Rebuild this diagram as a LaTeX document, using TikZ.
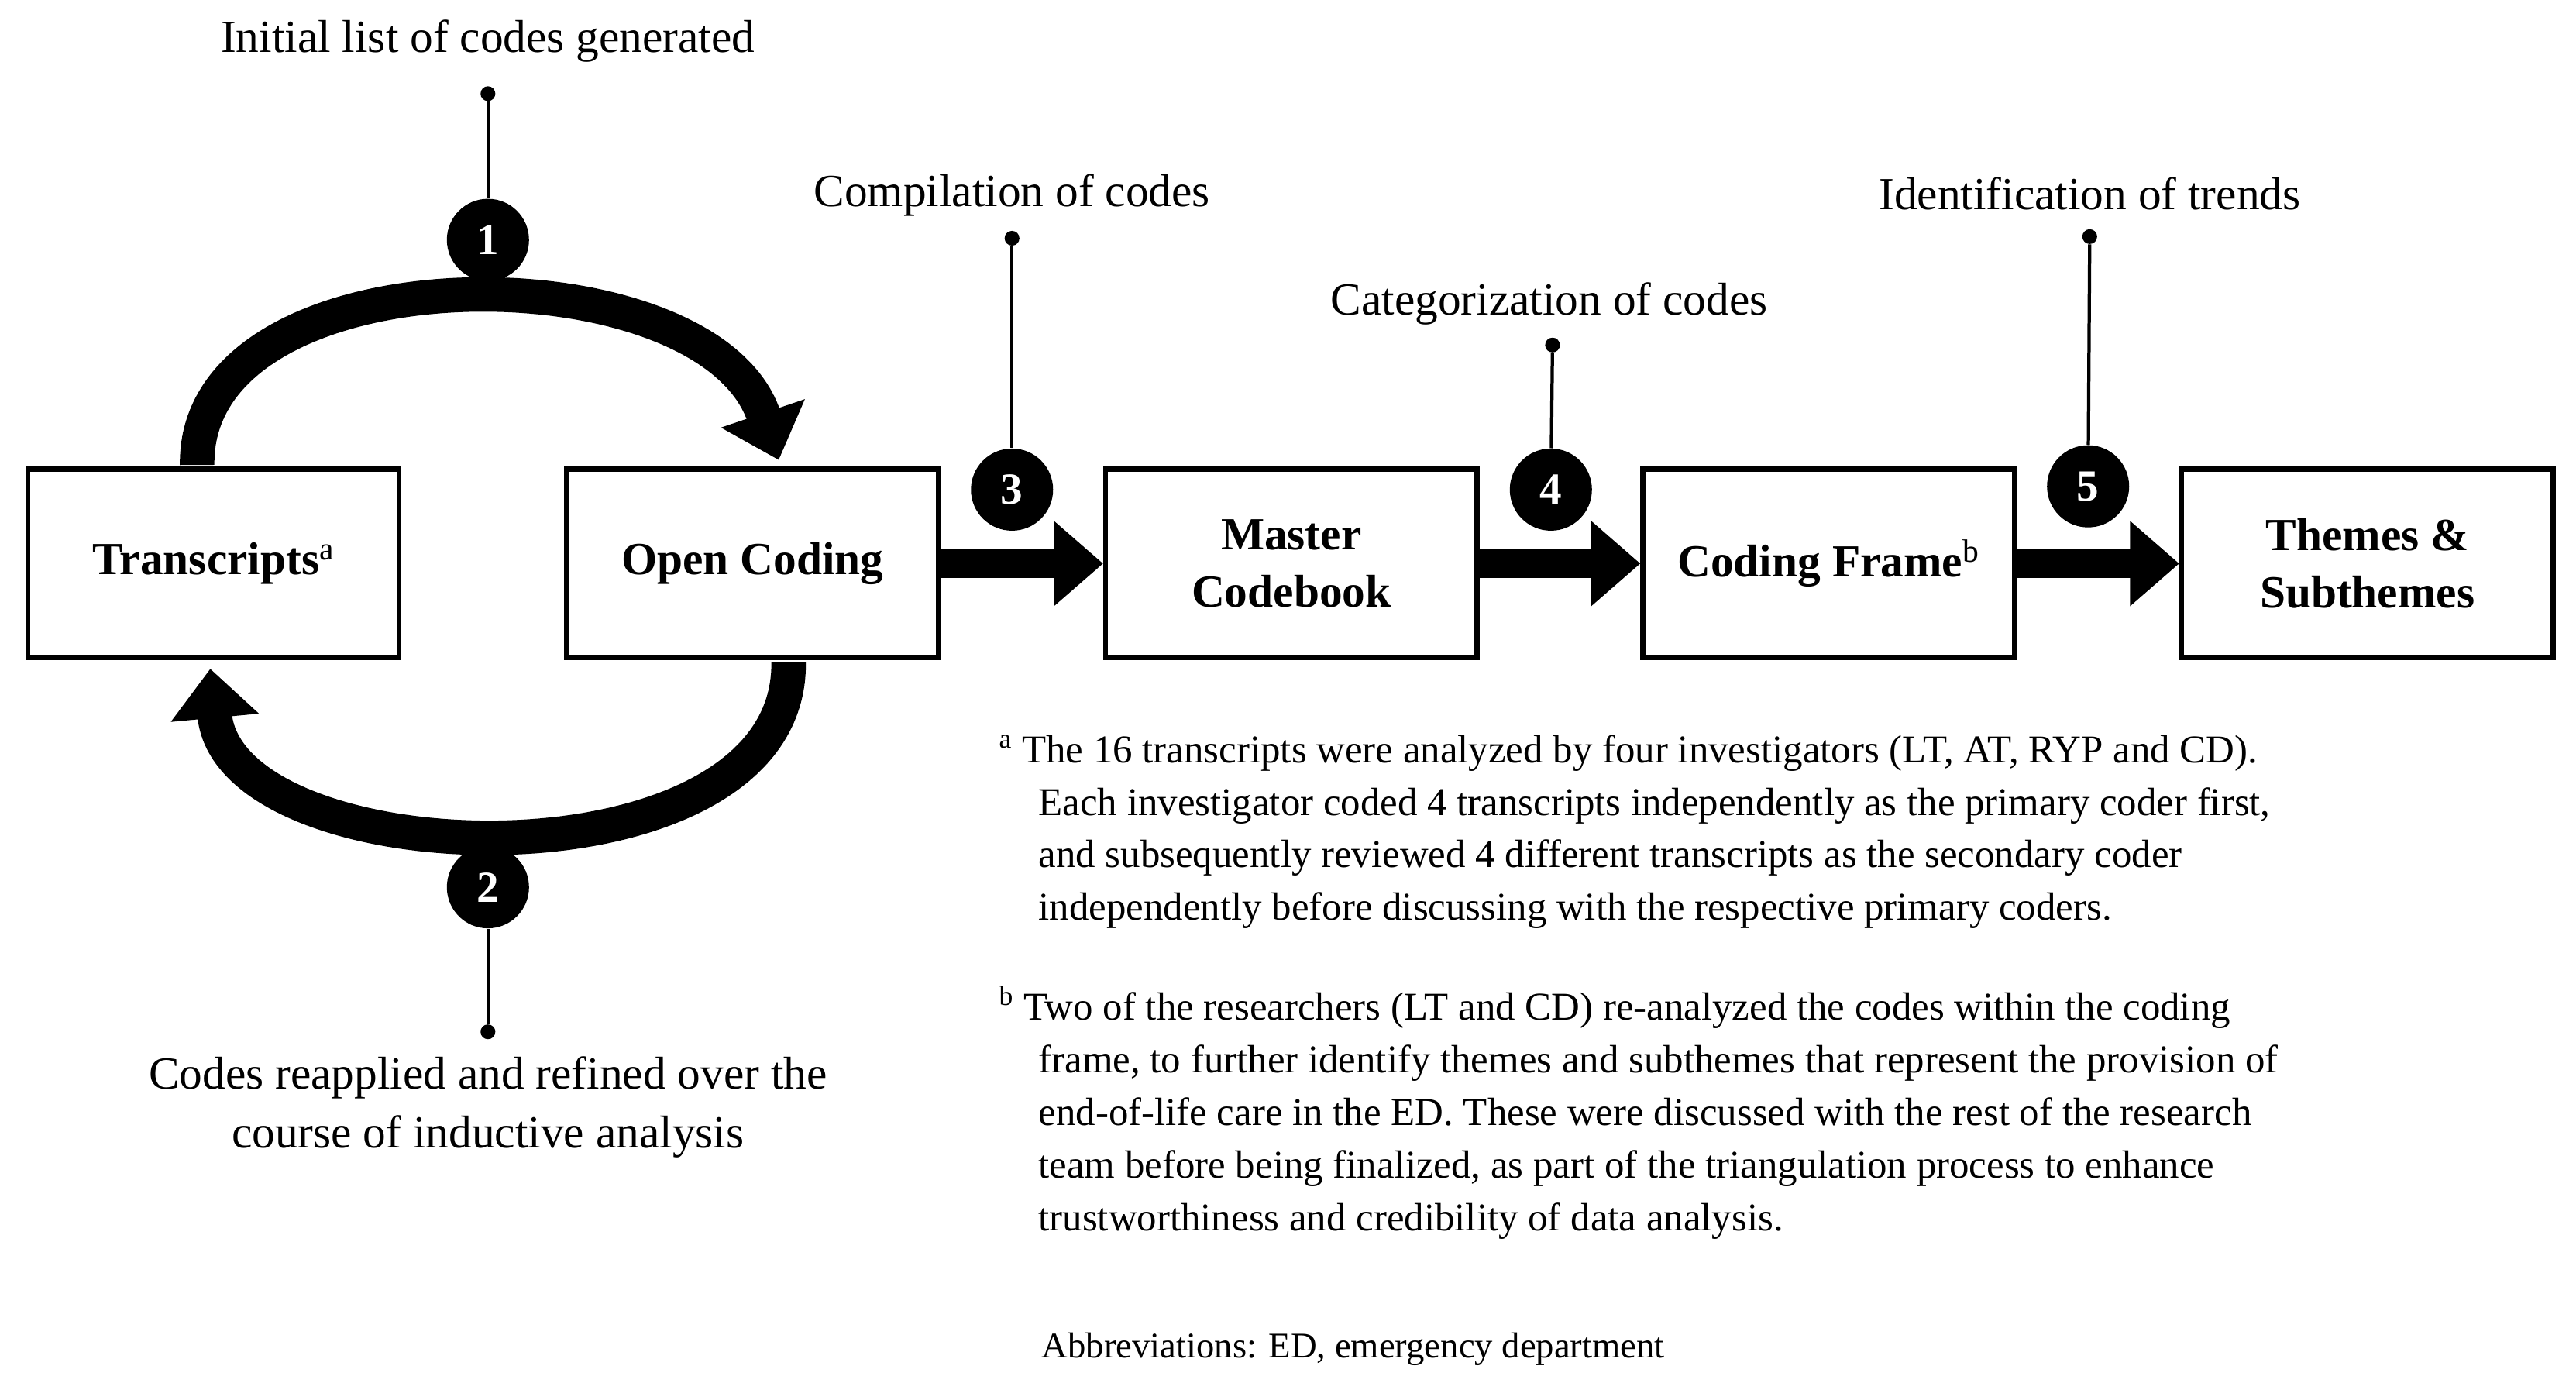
\documentclass[tikz,border=0pt]{standalone}
\usepackage{fontspec}
\setmainfont{Liberation Serif}
\usetikzlibrary{arrows.meta}
\begin{document}
\begin{tikzpicture}[x=1pt,y=-1pt,
 box/.style={draw,line width=3pt,minimum width=226pt,minimum height=115pt,align=center,font=\fontsize{28}{35}\selectfont\bfseries},
 num/.style={circle,fill=black,text=white,minimum size=50pt,inner sep=0pt,font=\fontsize{27}{30}\selectfont\bfseries},
 lab/.style={font=\fontsize{28}{36}\selectfont,align=center},
 dot/.style={circle,fill=black,inner sep=0pt,minimum size=9pt},
 pin/.style={line width=2pt},
 big/.style={line width=18pt,-{Triangle[length=30pt,width=50pt]}},
 arc/.style={line width=21pt,-{Triangle[length=30pt,width=52pt]}},
 note/.style={font=\fontsize{24}{32}\selectfont,align=left,anchor=north west,inner sep=0pt}]
\useasboundingbox (0,0) rectangle (1568,846);
\node[box] (t) at (130,343) {Transcripts\textsuperscript{\mdseries a}};
\node[box] (o) at (458,343) {Open Coding};
\node[box] (m) at (786,343) {Master\\Codebook};
\node[box] (c) at (1113,343) {Coding Frame\textsuperscript{\mdseries b}};
\node[box] (th) at (1441,343) {Themes \&\\Subthemes};
\draw[big] (o.east) -- (m.west);
\draw[big] (m.east) -- (c.west);
\draw[big] (c.east) -- (th.west);
\coordinate (ts) at (120,283);
\coordinate (oe) at (474,280);
\coordinate (os) at (480,403);
\coordinate (te) at (128,407);
\draw[arc] (ts) .. controls (118,150) and (430,150) .. (oe);
\draw[arc] (os) .. controls (482,545) and (140,535) .. (te);
\node[num] (n1) at (297,146) {1};
\node[num] (n2) at (297,540) {2};
\node[num] (n3) at (616,298) {3};
\node[num] (n4) at (944,298) {4};
\node[num] (n5) at (1271,296) {5};
\node[dot] (d1) at (297,57) {};
\node[dot] (d2) at (297,628) {};
\node[dot] (d3) at (616,145) {};
\node[dot] (d4) at (945,210) {};
\node[dot] (d5) at (1272,144) {};
\draw[pin] (d1) -- (n1);
\draw[pin] (d2) -- (n2);
\draw[pin] (d3) -- (n3);
\draw[pin] (d4) -- (n4);
\draw[pin] (d5) -- (n5);
\node[lab] (l1) at (297,25) {Initial list of codes generated};
\node[lab] (l3) at (616,119) {Compilation of codes};
\node[lab] (l4) at (943,185) {Categorization of codes};
\node[lab] (l5) at (1272,118) {Identification of trends};
\node[lab] (l2) at (297,674) {Codes reapplied and refined over the\\course of inductive analysis};
\node[note] (na) at (608,447) {\textsuperscript{a} The 16 transcripts were analyzed by four investigators (LT, AT, RYP and CD).\\
\hspace*{24pt}Each investigator coded 4 transcripts independently as the primary coder first,\\
\hspace*{24pt}and subsequently reviewed 4 different transcripts as the secondary coder\\
\hspace*{24pt}independently before discussing with the respective primary coders.};
\node[note] (nb) at (608,600) {\textsuperscript{b} Two of the researchers (LT and CD) re-analyzed the codes within the coding\\
\hspace*{24pt}frame, to further identify themes and subthemes that represent the provision of\\
\hspace*{24pt}end-of-life care in the ED. These were discussed with the rest of the research\\
\hspace*{24pt}team before being finalized, as part of the triangulation process to enhance\\
\hspace*{24pt}trustworthiness and credibility of data analysis.};
\node[note,font=\fontsize{22}{26}\selectfont] (ab) at (634,811) {Abbreviations: ED, emergency department};
\end{tikzpicture}
\end{document}
